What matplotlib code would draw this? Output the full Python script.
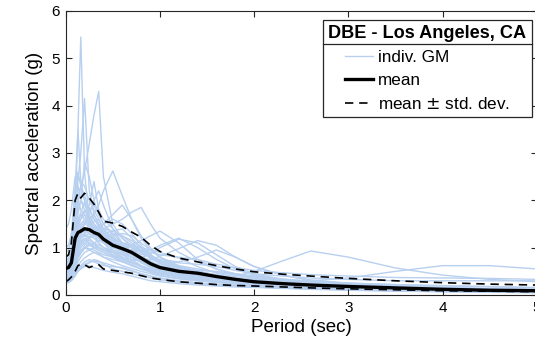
import matplotlib
matplotlib.use("Agg")
import matplotlib.pyplot as plt
from matplotlib.lines import Line2D
import numpy as np

plt.rcParams['font.family'] = ['Liberation Sans', 'DejaVu Sans']

period = [0, 0.03, 0.06, 0.1, 0.13, 0.16, 0.2, 0.25, 0.3, 0.35, 0.4, 0.5, 0.6, 0.7,
          0.8, 0.9, 1.0, 1.2, 1.4, 1.6, 1.8, 2.0, 2.3, 2.6, 3.0, 3.5, 4.0, 4.5, 5.0]

gm_01 = [0.55,0.6,0.8,1.8,3.5,5.45,2.6,1.6,1.3,1.2,1.1,0.9,0.8,0.7,0.6,0.55,0.5,0.4,0.35,0.3,0.25,0.22,0.18,0.15,0.12,0.1,0.08,0.07,0.06]
gm_02 = [0.7,0.75,0.9,1.6,2.4,3.0,4.15,2.2,1.7,1.5,1.3,1.1,0.9,0.8,0.7,0.6,0.55,0.45,0.4,0.35,0.3,0.26,0.22,0.19,0.16,0.13,0.11,0.09,0.08]
gm_03 = [0.6,0.65,0.8,1.5,1.9,2.3,2.6,3.2,3.8,4.3,2.5,1.5,1.2,1.0,0.8,0.7,0.6,0.5,0.45,0.38,0.32,0.28,0.23,0.2,0.17,0.14,0.12,0.1,0.09]
gm_04 = [0.5,0.55,0.9,2.2,3.5,2.4,2.0,1.6,1.4,1.3,1.15,0.95,0.85,0.75,0.62,0.52,0.45,0.38,0.32,0.28,0.24,0.2,0.17,0.15,0.12,0.1,0.08,0.07,0.06]
gm_05 = [0.4,0.42,0.5,0.8,1.0,1.2,1.3,1.5,1.7,1.9,2.2,2.62,2.1,1.6,1.2,0.95,0.8,0.6,0.5,0.42,0.35,0.3,0.25,0.21,0.18,0.15,0.12,0.1,0.09]
gm_06 = [0.45,0.47,0.55,0.9,1.1,1.2,1.3,1.2,1.25,1.3,1.4,1.5,1.6,1.75,1.85,1.5,1.2,0.9,0.7,0.55,0.45,0.38,0.3,0.25,0.2,0.17,0.14,0.12,0.1]
gm_07 = [0.35,0.37,0.45,0.7,0.9,1.0,1.1,1.05,1.0,1.0,0.95,0.9,0.95,1.05,1.15,1.25,1.35,1.1,0.75,0.55,0.42,0.35,0.28,0.23,0.19,0.15,0.12,0.1,0.09]
gm_08 = [0.3,0.32,0.4,0.6,0.8,0.9,1.0,0.95,0.9,0.85,0.8,0.75,0.7,0.72,0.78,0.88,1.0,1.18,1.1,0.85,0.6,0.45,0.33,0.27,0.22,0.18,0.14,0.12,0.1]
gm_09 = [0.45,0.47,0.6,1.0,1.2,1.3,1.4,1.3,1.2,1.1,1.0,0.9,0.8,0.75,0.72,0.75,0.82,0.98,1.15,1.05,0.8,0.6,0.42,0.32,0.25,0.2,0.16,0.13,0.11]
gm_10 = [0.4,0.42,0.5,0.85,1.0,1.1,1.2,1.1,1.0,0.95,0.9,0.8,0.7,0.62,0.55,0.5,0.47,0.42,0.4,0.38,0.4,0.5,0.72,0.93,0.8,0.57,0.42,0.33,0.28]
gm_11 = [0.5,0.52,0.6,1.0,1.2,1.3,1.25,1.2,1.1,1.0,0.95,0.85,0.75,0.65,0.55,0.5,0.45,0.4,0.38,0.35,0.33,0.32,0.3,0.3,0.36,0.5,0.62,0.62,0.55]
gm_12 = [0.9,0.95,1.2,2.0,2.5,2.4,2.3,2.0,1.8,1.6,1.4,1.2,1.0,0.85,0.72,0.62,0.55,0.45,0.38,0.33,0.28,0.25,0.21,0.18,0.15,0.12,0.1,0.08,0.07]
gm_13 = [0.6,0.62,0.75,1.3,1.7,2.0,2.8,2.5,2.0,1.7,1.5,1.3,1.1,1.0,0.9,0.8,0.7,0.55,0.45,0.38,0.32,0.28,0.24,0.21,0.18,0.15,0.13,0.11,0.1]
gm_14 = [0.3,0.31,0.35,0.45,0.55,0.6,0.65,0.7,0.75,0.72,0.65,0.55,0.5,0.45,0.4,0.36,0.32,0.27,0.24,0.21,0.19,0.17,0.15,0.13,0.11,0.09,0.07,0.06,0.05]
gm_15 = [0.5,0.52,0.62,1.1,1.4,1.5,1.6,1.8,1.9,1.7,1.5,1.25,1.05,0.9,0.78,0.68,0.6,0.5,0.42,0.36,0.3,0.26,0.22,0.19,0.16,0.13,0.11,0.09,0.08]
gm_16 = [0.7,0.72,0.85,1.5,1.8,2.0,1.9,1.7,1.5,1.4,1.3,1.2,1.1,1.05,0.95,0.85,0.72,0.58,0.48,0.4,0.34,0.3,0.26,0.22,0.19,0.16,0.13,0.11,0.1]
gm_17 = [0.25,0.26,0.3,0.4,0.5,0.55,0.6,0.62,0.58,0.55,0.52,0.48,0.45,0.4,0.35,0.3,0.28,0.24,0.21,0.19,0.17,0.16,0.14,0.12,0.1,0.08,0.07,0.06,0.05]
gm_18 = [0.55,0.57,0.7,1.2,1.4,1.6,1.8,1.6,1.4,1.35,1.3,1.35,1.4,1.2,1.0,0.85,0.7,0.55,0.45,0.38,0.33,0.29,0.25,0.22,0.19,0.16,0.14,0.12,0.11]
gm_19 = [0.45,0.47,0.55,0.9,1.1,1.3,1.5,1.7,2.0,2.2,1.9,1.4,1.1,0.9,0.75,0.62,0.52,0.42,0.36,0.3,0.26,0.23,0.2,0.17,0.14,0.12,0.1,0.08,0.07]
gm_20 = [0.8,0.85,1.0,1.7,2.1,2.3,2.0,1.6,1.3,1.1,1.0,0.9,0.8,0.7,0.6,0.5,0.45,0.38,0.32,0.28,0.24,0.21,0.18,0.16,0.13,0.11,0.09,0.08,0.07]
gm_21 = [0.35,0.36,0.42,0.6,0.8,0.9,1.0,1.1,1.05,1.0,0.95,0.85,0.78,0.7,0.62,0.55,0.5,0.45,0.42,0.38,0.34,0.3,0.27,0.24,0.21,0.18,0.15,0.13,0.12]
gm_22 = [0.6,0.62,0.7,1.1,1.3,1.4,1.5,1.6,1.7,1.5,1.3,1.1,1.0,0.95,0.9,0.82,0.72,0.62,0.55,0.48,0.42,0.38,0.33,0.29,0.25,0.22,0.2,0.18,0.16]
gm_23 = [0.4,0.41,0.48,0.7,0.85,0.95,1.0,0.98,0.95,0.9,0.85,0.8,0.72,0.62,0.55,0.48,0.42,0.35,0.3,0.26,0.23,0.2,0.17,0.15,0.13,0.11,0.09,0.08,0.07]
gm_24 = [0.5,0.52,0.6,0.9,1.1,1.2,1.25,1.3,1.35,1.3,1.2,1.1,1.05,1.0,0.95,0.9,0.85,0.8,0.75,0.65,0.58,0.52,0.47,0.43,0.4,0.37,0.36,0.35,0.33]
gm_25 = [0.65,0.68,0.8,1.4,1.6,1.7,1.75,1.9,2.4,1.8,1.6,1.4,1.2,1.05,0.9,0.78,0.66,0.52,0.43,0.36,0.3,0.26,0.22,0.19,0.16,0.13,0.11,0.09,0.08]
gm_26 = [0.3,0.31,0.36,0.5,0.62,0.7,0.78,0.85,0.9,0.88,0.8,0.7,0.62,0.56,0.5,0.45,0.4,0.34,0.3,0.27,0.24,0.22,0.19,0.17,0.15,0.12,0.1,0.09,0.08]
gm_27 = [0.55,0.57,0.65,1.0,1.2,1.3,1.35,1.3,1.25,1.2,1.15,1.1,1.0,0.95,0.92,0.95,1.05,1.2,1.0,0.75,0.55,0.42,0.32,0.26,0.21,0.17,0.14,0.12,0.1]
gm_28 = [0.45,0.46,0.52,0.8,1.0,1.1,1.15,1.1,1.05,1.0,0.95,0.9,0.85,0.8,0.78,0.75,0.72,0.68,0.65,0.6,0.52,0.45,0.4,0.36,0.33,0.3,0.3,0.3,0.3]
gm_29 = [0.75,0.78,0.9,1.6,2.0,1.8,1.7,1.5,1.55,1.6,1.4,1.15,0.95,0.8,0.68,0.58,0.5,0.4,0.34,0.29,0.25,0.22,0.19,0.17,0.14,0.12,0.1,0.09,0.08]
gm_30 = [0.38,0.39,0.45,0.65,0.8,0.9,1.05,1.2,1.3,1.4,1.5,1.6,1.5,1.3,1.05,0.85,0.68,0.52,0.42,0.35,0.3,0.26,0.22,0.19,0.16,0.13,0.11,0.1,0.09]
gm_31 = [0.28,0.29,0.33,0.45,0.55,0.62,0.7,0.75,0.7,0.66,0.62,0.6,0.58,0.52,0.45,0.4,0.36,0.3,0.26,0.22,0.2,0.18,0.16,0.14,0.12,0.1,0.08,0.07,0.06]
gm_32 = [1.0,1.05,1.3,2.2,2.6,2.3,2.1,1.8,1.6,1.5,1.4,1.35,1.25,1.15,1.0,0.85,0.72,0.58,0.48,0.4,0.34,0.3,0.26,0.23,0.2,0.17,0.14,0.12,0.11]
gm_33 = [0.5,0.51,0.6,0.95,1.15,1.25,1.3,1.4,1.45,1.35,1.25,1.1,1.0,0.92,0.86,0.8,0.75,0.7,0.8,0.95,0.8,0.6,0.42,0.3,0.24,0.19,0.15,0.13,0.11]
gm_34 = [0.62,0.65,0.75,1.3,1.5,1.6,1.7,1.5,1.4,1.45,1.5,1.7,1.9,1.6,1.25,1.0,0.8,0.6,0.5,0.42,0.36,0.31,0.26,0.23,0.19,0.16,0.13,0.11,0.1]
gm_35 = [1.4,1.5,1.8,2.5,2.3,2.0,1.8,1.6,1.5,1.4,1.3,1.15,1.0,0.9,0.8,0.7,0.62,0.5,0.42,0.36,0.31,0.27,0.23,0.2,0.17,0.14,0.12,0.1,0.09]
gm_36 = [0.42,0.44,0.5,0.75,0.95,1.05,1.15,1.25,1.2,1.15,1.1,1.0,0.92,0.85,0.75,0.65,0.56,0.46,0.4,0.34,0.3,0.26,0.22,0.19,0.16,0.13,0.11,0.1,0.08]
gm_37 = [0.33,0.34,0.4,0.55,0.7,0.8,0.9,0.95,1.0,0.95,0.9,0.82,0.75,0.68,0.6,0.52,0.46,0.38,0.33,0.28,0.25,0.22,0.19,0.16,0.14,0.11,0.09,0.08,0.07]
gm_38 = [0.58,0.6,0.7,1.2,1.5,1.7,1.6,1.45,1.3,1.2,1.1,1.0,0.95,0.9,0.82,0.72,0.62,0.5,0.42,0.37,0.32,0.28,0.24,0.21,0.18,0.15,0.12,0.1,0.09]
gm_39 = [0.48,0.5,0.58,0.95,1.2,1.35,1.5,1.45,1.35,1.25,1.2,1.3,1.25,1.1,0.95,0.8,0.68,0.55,0.47,0.4,0.35,0.31,0.27,0.24,0.21,0.18,0.15,0.13,0.12]
gm_40 = [0.26,0.27,0.31,0.42,0.5,0.56,0.62,0.68,0.72,0.7,0.68,0.62,0.56,0.5,0.45,0.4,0.35,0.29,0.25,0.22,0.19,0.17,0.15,0.13,0.11,0.09,0.08,0.07,0.06]
gm_41 = [0.68,0.7,0.82,1.3,1.55,1.75,1.95,1.85,1.6,1.45,1.35,1.2,1.1,1.0,0.9,0.78,0.68,0.55,0.47,0.4,0.34,0.3,0.26,0.22,0.19,0.16,0.13,0.11,0.1]
gm_42 = [0.36,0.37,0.44,0.62,0.78,0.88,0.98,1.05,1.1,1.15,1.2,1.25,1.3,1.25,1.1,0.95,0.8,0.62,0.5,0.42,0.36,0.31,0.26,0.22,0.19,0.16,0.13,0.11,0.1]
gm_43 = [0.52,0.54,0.62,1.05,1.3,1.45,1.55,1.5,1.45,1.4,1.3,1.2,1.1,1.05,1.0,0.95,0.9,0.78,0.6,0.46,0.38,0.33,0.28,0.24,0.2,0.17,0.14,0.12,0.11]
gm_44 = [0.44,0.45,0.52,0.85,1.05,1.15,1.2,1.15,1.1,1.05,1.0,0.95,0.88,0.8,0.72,0.65,0.6,0.55,0.52,0.5,0.45,0.4,0.34,0.29,0.25,0.22,0.19,0.17,0.15]

ground_motions = [gm_01, gm_02, gm_03, gm_04, gm_05, gm_06, gm_07, gm_08, gm_09, gm_10,
                  gm_11, gm_12, gm_13, gm_14, gm_15, gm_16, gm_17, gm_18, gm_19, gm_20,
                  gm_21, gm_22, gm_23, gm_24, gm_25, gm_26, gm_27, gm_28, gm_29, gm_30,
                  gm_31, gm_32, gm_33, gm_34, gm_35, gm_36, gm_37, gm_38, gm_39, gm_40,
                  gm_41, gm_42, gm_43, gm_44]

mean_sa = [0.56,0.58,0.68,1.2,1.32,1.35,1.40,1.38,1.32,1.28,1.18,1.05,0.98,0.90,0.78,0.66,0.58,0.50,0.46,0.39,0.33,0.28,0.24,0.21,0.18,0.15,0.12,0.10,0.09]
upper_sa = [0.80,0.85,1.1,2.0,2.15,2.05,2.15,2.05,1.92,1.75,1.56,1.52,1.45,1.33,1.22,1.05,0.92,0.78,0.70,0.62,0.55,0.49,0.44,0.40,0.35,0.30,0.26,0.23,0.21]
lower_sa = [0.28,0.32,0.38,0.50,0.62,0.65,0.64,0.58,0.62,0.64,0.55,0.52,0.49,0.46,0.41,0.36,0.33,0.28,0.25,0.22,0.20,0.19,0.17,0.15,0.13,0.11,0.09,0.08,0.07]

W, H = 535, 351
fig = plt.figure(figsize=(W/100, H/100), dpi=100)
ax = fig.add_axes([65.7/W, (H-295)/H, (537-65.7)/W, 284/H])

blue = '#b8d0f0'
for i, gm in enumerate(ground_motions):
    ax.plot(period, gm, color=blue, lw=1.0, label='indiv. GM' if i == 0 else None, zorder=1)
ax.plot(period, mean_sa, color='black', lw=2.4, label='mean', zorder=3)
ax.plot(period, upper_sa, color='black', lw=1.2, ls=(0, (5, 3.5)), label='mean $\\pm$ std. dev.', zorder=2)
ax.plot(period, lower_sa, color='black', lw=1.2, ls=(0, (5, 3.5)), zorder=2)

ax.set_xlim(0, 5)
ax.set_ylim(0, 6)
ax.set_xticks([0, 1, 2, 3, 4, 5])
ax.set_yticks([0, 1, 2, 3, 4, 5, 6])
ax.tick_params(direction='in', length=4, width=0.8, top=True, right=True,
               labelsize=11, colors='#262626', labelcolor='black', pad=4)
for s in ax.spines.values():
    s.set_color('#262626')
    s.set_linewidth(0.8)
ax.set_xlabel('Period (sec)', fontsize=13.5, labelpad=3)
ax.set_ylabel('Spectral acceleration (g)', fontsize=13.5, labelpad=6)

leg = ax.legend(loc='upper right', bbox_to_anchor=(532/W, (H-20)/H), bbox_transform=fig.transFigure,
                title='DBE - Los Angeles, CA', fontsize=12.3,
                title_fontproperties={'weight': 'bold', 'size': 13.1},
                frameon=True, fancybox=False, edgecolor='#262626', framealpha=1,
                borderpad=0.32, handlelength=1.65, handletextpad=0.25, labelspacing=0.45,
                borderaxespad=0)
leg.get_frame().set_linewidth(0.9)

fig.canvas.draw()
r = fig.canvas.get_renderer()
fb = leg.get_frame().get_window_extent(r)
tb = leg.get_title().get_window_extent(r)
ysep = tb.y0 - 2
fig.add_artist(Line2D([fb.x0 / W, fb.x1 / W], [ysep / H, ysep / H], color='#262626', lw=0.9,
                      transform=fig.transFigure))

fig.savefig('out.png', dpi=100)
